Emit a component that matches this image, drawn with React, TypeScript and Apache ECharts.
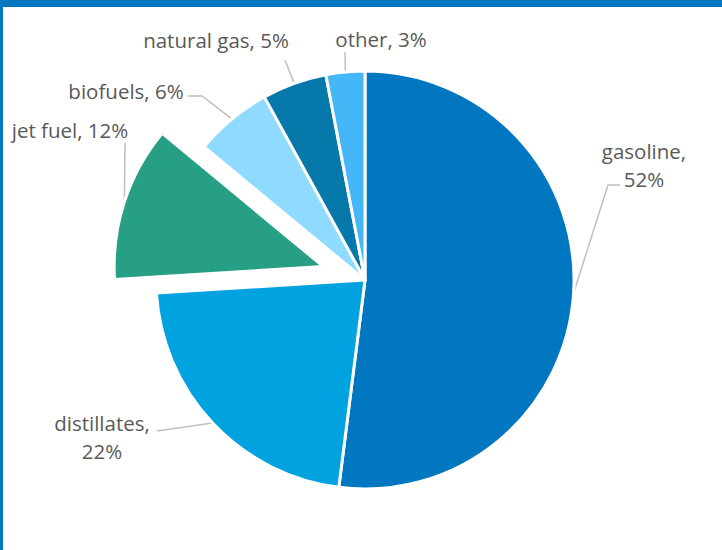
import React, { useEffect, useRef } from 'react';
import * as echarts from 'echarts';

const categories = ['gasoline', 'distillates', 'jet fuel', 'biofuels', 'natural gas', 'other'];
const shares = [52, 22, 12, 6, 5, 3];
const sliceColors = ['#0077C0', '#00A3E0', '#279F84', '#8FDBFF', '#0679AA', '#45B7F6'];
const explodedSlice = 'jet fuel';
const twoLineLabels = ['gasoline', 'distillates'];

// label placement (centre of text block) and elbow points of the leader line
const labelPlacement = [
  { x: 644, y: 165, elbow: [[608, 185], [620, 185]] },
  { x: 102, y: 437, elbow: [[157, 431]] },
  { x: 70, y: 130, elbow: [[125, 143]] },
  { x: 126, y: 91, elbow: [[202, 96], [188, 96]] },
  { x: 216, y: 40, elbow: [[285, 60]] },
  { x: 381, y: 39, elbow: [[345, 52]] },
];

const PIE_CENTER = [365, 280];
const PIE_RADIUS = 209;
const EXPLODE_OFFSET = 44;

export default function App() {
  const ref = useRef<HTMLDivElement>(null);
  useEffect(() => {
    if (!ref.current) return;
    const chart = echarts.init(ref.current, null, { renderer: 'svg' });

    const total = shares.reduce((a, b) => a + b, 0);
    const exIdx = categories.indexOf(explodedSlice);
    const before = shares.slice(0, exIdx).reduce((a, b) => a + b, 0);
    const midAngle = ((before + shares[exIdx] / 2) / total) * 2 * Math.PI;
    const explodedCenter = [
      PIE_CENTER[0] + EXPLODE_OFFSET * Math.sin(midAngle),
      PIE_CENTER[1] - EXPLODE_OFFSET * Math.cos(midAngle),
    ];

    const hidden = {
      itemStyle: { color: 'rgba(0,0,0,0)', borderWidth: 0 },
      label: { show: false },
      labelLine: { show: false },
    };

    const makeData = (visible: (i: number) => boolean) =>
      categories.map((name, i) =>
        visible(i)
          ? { name, value: shares[i], itemStyle: { color: sliceColors[i] } }
          : { name, value: shares[i], ...hidden }
      );

    const common = {
      type: 'pie',
      radius: PIE_RADIUS,
      startAngle: 90,
      clockwise: true,
      selectedMode: false,
      avoidLabelOverlap: false,
      emphasis: { disabled: true },
      itemStyle: { borderColor: '#FFFFFF', borderWidth: 3 },
      label: {
        show: true,
        color: '#595959',
        fontFamily: 'Open Sans',
        fontSize: 20.5,
        lineHeight: 28,
        align: 'center',
        formatter: (p: any) =>
          twoLineLabels.includes(p.name) ? `${p.name},\n${p.value}%` : `${p.name}, ${p.value}%`,
      },
      labelLine: {
        show: true,
        lineStyle: { color: '#BFBFBF', width: 1.5 },
      },
      labelLayout: (params: any) => {
        const pl = labelPlacement[params.dataIndex];
        const start = params.labelLinePoints ? params.labelLinePoints[0] : pl.elbow[0];
        return {
          x: pl.x,
          y: pl.y,
          align: 'center',
          verticalAlign: 'middle',
          labelLinePoints: [start, ...pl.elbow],
        };
      },
    };

    chart.setOption({
      animation: false,
      backgroundColor: '#FFFFFF',
      graphic: [
        { type: 'rect', shape: { x: 0, y: 0, width: 722, height: 7 }, style: { fill: '#0077C0' } },
        { type: 'rect', shape: { x: 0, y: 0, width: 3, height: 550 }, style: { fill: '#0077C0' } },
      ],
      series: [
        { ...common, name: 'main', center: PIE_CENTER, data: makeData((i) => i !== exIdx) },
        { ...common, name: 'exploded', center: explodedCenter, data: makeData((i) => i === exIdx) },
      ],
    });
    return () => chart.dispose();
  }, []);
  return (
    <div style={{ position: 'fixed', left: 0, top: 0, width: 722, height: 550, background: '#fff' }}>
      <div ref={ref} style={{ width: 722, height: 550 }} />
    </div>
  );
}
